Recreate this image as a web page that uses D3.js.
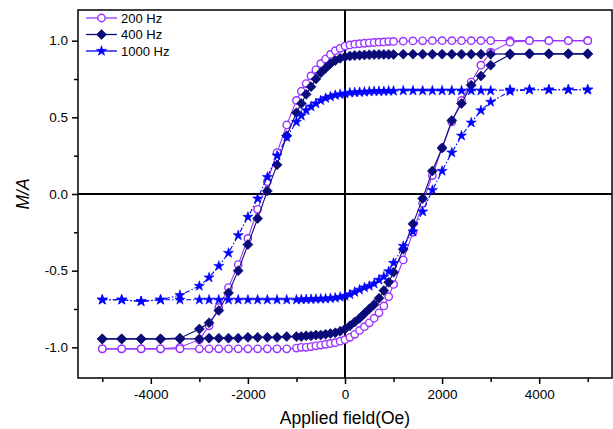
<!DOCTYPE html>
<html>
<head>
<meta charset="utf-8">
<script src="https://cdn.jsdelivr.net/npm/d3@7"></script>
<style>
  body { margin: 0; background: #fff; }
  svg { display: block; font-family: "Liberation Sans", Arial, sans-serif; }
</style>
</head>
<body>
<svg id="chart" width="613" height="429"></svg>
<script>
// Applied field grid (Oe), shared by every branch
const field = [-5000, -4600, -4200, -3800, -3400, -3000, -2800, -2600, -2400, -2200, -2000, -1800, -1600, -1400, -1200,
  -1000, -900, -800, -700, -600, -500, -400, -300, -200, -100, 0, 100, 200, 300, 400, 500, 600, 700, 800, 900, 1000,
  1200, 1400, 1600, 1800, 2000, 2200, 2400, 2600, 2800, 3000, 3400, 3800, 4200, 4600, 5000];

// M/A on the descending (down) and ascending (up) branches, one value per field
const hz200Down = [-1.01, -1.01, -1.01, -1.01, -1.0, -0.95, -0.86, -0.74, -0.61, -0.46, -0.29, -0.10, 0.08, 0.27, 0.45,
  0.61, 0.67, 0.72, 0.77, 0.81, 0.85, 0.88, 0.91, 0.935, 0.95, 0.965, 0.972, 0.977, 0.98, 0.983, 0.986, 0.988, 0.99, 0.992, 0.994, 0.995,
  0.997, 0.998, 0.999, 1.0, 1.0, 1.0, 1.0, 1.0, 1.0, 1.0, 1.0, 1.0, 1.0, 1.0, 1.0];
const hz200Up = [-1.01, -1.01, -1.01, -1.01, -1.01, -1.01, -1.01, -1.01, -1.01, -1.01, -1.01, -1.01, -1.01, -1.01, -1.01,
  -1.005, -1.0, -1.0, -0.995, -0.99, -0.985, -0.98, -0.975, -0.97, -0.96, -0.95, -0.935, -0.915, -0.89, -0.865, -0.84, -0.81, -0.775, -0.73, -0.67, -0.59,
  -0.43, -0.25, -0.06, 0.12, 0.30, 0.47, 0.61, 0.73, 0.84, 0.925, 0.99, 1.0, 1.0, 1.0, 1.0];

const hz400Down = [-0.945, -0.945, -0.945, -0.945, -0.94, -0.88, -0.84, -0.76, -0.645, -0.50, -0.33, -0.16, 0.02, 0.19, 0.38,
  0.53, 0.59, 0.65, 0.70, 0.75, 0.79, 0.82, 0.85, 0.87, 0.885, 0.895, 0.90, 0.903, 0.905, 0.907, 0.908, 0.909, 0.91, 0.91, 0.91, 0.91,
  0.912, 0.912, 0.912, 0.912, 0.912, 0.912, 0.912, 0.912, 0.912, 0.912, 0.914, 0.914, 0.914, 0.914, 0.914];
const hz400Up = [-0.945, -0.945, -0.945, -0.945, -0.945, -0.945, -0.94, -0.94, -0.94, -0.94, -0.935, -0.935, -0.935, -0.935, -0.93,
  -0.93, -0.93, -0.925, -0.925, -0.92, -0.92, -0.915, -0.91, -0.905, -0.895, -0.88, -0.86, -0.835, -0.81, -0.78, -0.75, -0.72, -0.68, -0.63, -0.575, -0.51,
  -0.36, -0.195, -0.03, 0.15, 0.30, 0.48, 0.59, 0.71, 0.77, 0.84, 0.91, 0.914, 0.914, 0.914, 0.914];

const hz1000Down = [-0.69, -0.69, -0.70, -0.69, -0.66, -0.60, -0.545, -0.47, -0.385, -0.27, -0.15, -0.03, 0.11, 0.25, 0.37,
  0.47, 0.51, 0.545, 0.57, 0.59, 0.61, 0.625, 0.635, 0.645, 0.65, 0.655, 0.66, 0.662, 0.664, 0.666, 0.668, 0.67, 0.67, 0.67, 0.672, 0.672,
  0.674, 0.674, 0.674, 0.674, 0.674, 0.674, 0.674, 0.674, 0.674, 0.674, 0.68, 0.68, 0.68, 0.68, 0.68];
const hz1000Up = [-0.69, -0.69, -0.70, -0.69, -0.69, -0.69, -0.69, -0.69, -0.69, -0.69, -0.69, -0.69, -0.69, -0.69, -0.69,
  -0.69, -0.688, -0.687, -0.686, -0.685, -0.684, -0.683, -0.68, -0.677, -0.672, -0.665, -0.655, -0.64, -0.625, -0.61, -0.60, -0.585, -0.56, -0.54, -0.505, -0.45,
  -0.34, -0.245, -0.115, 0.025, 0.15, 0.27, 0.38, 0.465, 0.545, 0.60, 0.67, 0.68, 0.68, 0.68, 0.68];

const seriesNames = ["200 Hz", "400 Hz", "1000 Hz"];

// tick values
const xTicks = [-4000, -2000, 0, 2000, 4000];
const xMinorTicks = [-5000, -3000, -1000, 1000, 3000, 5000];
const yTicks = [-1.0, -0.5, 0.0, 0.5, 1.0];
const yMinorTicks = [-0.75, -0.25, 0.25, 0.75];

// Styling per series
const styles = [
  { color: "#9933ff", marker: "circle", dash: null },
  { color: "#0a0a78", marker: "diamond", dash: null },
  { color: "#0000ff", marker: "star", dash: "5,2,1.5,2" },
];

const svg = d3.select("#chart");
const margin = { top: 10, right: 1, bottom: 51, left: 78 };
const width = 613, height = 429;

const x = d3.scaleLinear().domain([-5500, 5500]).range([margin.left, width - margin.right]);
const y = d3.scaleLinear().domain([-1.2, 1.2]).range([height - margin.bottom, margin.top]);

const fmt = d3.formatLocale({ decimal: ".", thousands: ",", grouping: [3], currency: ["", ""], minus: "-" });

// Zero lines
svg.append("line")
  .attr("x1", x(0)).attr("x2", x(0))
  .attr("y1", y(1.2)).attr("y2", y(-1.2))
  .attr("stroke", "#000").attr("stroke-width", 2);
svg.append("line")
  .attr("x1", x(-5500)).attr("x2", x(5500))
  .attr("y1", y(0)).attr("y2", y(0))
  .attr("stroke", "#000").attr("stroke-width", 2);

// Axes
svg.append("g")
  .attr("transform", `translate(0,${y(-1.2)})`)
  .call(d3.axisBottom(x).tickValues(xTicks).tickSize(6).tickPadding(5).tickFormat(fmt.format("d")));
svg.append("g")
  .attr("transform", `translate(0,${y(-1.2)})`)
  .call(d3.axisBottom(x).tickValues(xMinorTicks).tickSize(4).tickFormat(""));

svg.append("g")
  .attr("transform", `translate(${x(-5500)},0)`)
  .call(d3.axisLeft(y).tickValues(yTicks).tickSize(6).tickPadding(4).tickFormat(fmt.format(".1f")));
svg.append("g")
  .attr("transform", `translate(${x(-5500)},0)`)
  .call(d3.axisLeft(y).tickValues(yMinorTicks).tickSize(4).tickFormat(""));

svg.selectAll(".tick line").attr("stroke", "#000").attr("stroke-width", 1.5);
svg.selectAll(".tick text").attr("fill", "#000").style("font-size", "13.5px");
svg.selectAll(".domain").remove();

// Frame
svg.append("rect")
  .attr("x", x(-5500)).attr("y", y(1.2))
  .attr("width", x(5500) - x(-5500)).attr("height", y(-1.2) - y(1.2))
  .attr("fill", "none").attr("stroke", "#000").attr("stroke-width", 1.5);

// Axis titles
svg.append("text")
  .attr("x", x(0)).attr("y", 424)
  .attr("text-anchor", "middle")
  .style("font-size", "17.5px")
  .text("Applied field(Oe)");
svg.append("text")
  .attr("transform", `translate(29,${y(0)}) rotate(-90)`)
  .attr("text-anchor", "middle")
  .style("font-size", "17.5px")
  .style("font-style", "italic")
  .text("M/A");

// Marker helper
const diamondPath = d3.symbol(d3.symbolSquare, 50)();
const starPath = d3.symbol(d3.symbolStar, 32)();

function drawMarkers(sel, st) {
  if (st.marker === "circle") {
    sel.append("circle").attr("r", 3.7)
      .attr("fill", "#fff").attr("stroke", st.color).attr("stroke-width", 1.4);
  } else if (st.marker === "diamond") {
    sel.append("path").attr("d", diamondPath).attr("transform", "rotate(45)")
      .attr("fill", st.color).attr("stroke", st.color).attr("stroke-width", 0.6);
  } else {
    sel.append("path").attr("d", starPath)
      .attr("fill", st.color).attr("stroke", st.color).attr("stroke-width", 0.6);
  }
}

const branches = [[hz200Down, hz200Up], [hz400Down, hz400Up], [hz1000Down, hz1000Up]];

const line = d3.line().x((d) => x(d[0])).y((d) => y(d[1]));

branches.forEach(([down, up], i) => {
  const st = styles[i];
  const g = svg.append("g").attr("class", "series");
  [down, up].forEach((vals) => {
    const pts = field.map((h, k) => [h, vals[k]]);
    g.append("path")
      .attr("d", line(pts))
      .attr("fill", "none")
      .attr("stroke", st.color)
      .attr("stroke-width", 1.1)
      .attr("stroke-dasharray", st.dash);
    g.selectAll(null)
      .data(pts)
      .join("g")
      .attr("transform", (d) => `translate(${x(d[0])},${y(d[1])})`)
      .call((s) => drawMarkers(s, st));
  });
});

// Legend
const legend = svg.append("g").attr("transform", "translate(86,18)");
seriesNames.forEach((name, i) => {
  const st = styles[i];
  const row = legend.append("g").attr("transform", `translate(0,${i * 16.5})`);
  row.append("line").attr("x1", 0).attr("x2", 31)
    .attr("stroke", st.color).attr("stroke-width", 1.3);
  row.append("g").attr("transform", "translate(15.5,0)").call((s) => drawMarkers(s, st));
  row.append("text").attr("x", 35).attr("y", 4.8)
    .style("font-size", "13px")
    .text(name);
});
</script>
</body>
</html>
